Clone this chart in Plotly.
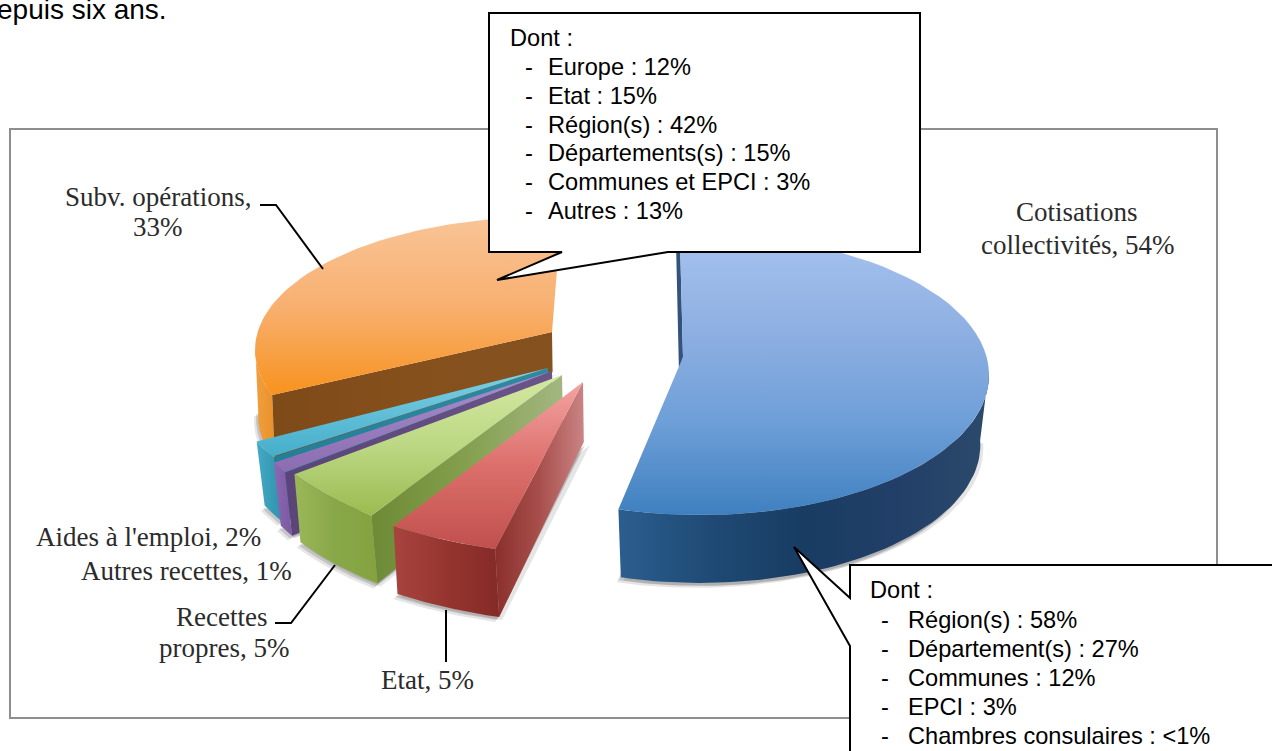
import math
import plotly.graph_objects as go

# ---- data ----
categories = ["Cotisations collectivités", "Etat", "Recettes propres", "Autres recettes", "Aides à l'emploi", "Subv. opérations"]
shares = [54, 5, 5, 1, 2, 33]
top_callout_head = "Dont :"
top_callout_items = ["Europe : 12%", "Etat : 15%", "Région(s) : 42%", "Départements(s) : 15%", "Communes et EPCI : 3%", "Autres : 13%"]
bottom_callout_head = "Dont :"
bottom_callout_items = ["Région(s) : 58%", "Département(s) : 27%", "Communes : 12%", "EPCI : 3%", "Chambres consulaires : <1%"]
header_text = "epuis six ans."

# ---- geometry of the exploded perspective pie (one entry per slice) ----
W, H = 1272, 751
geom = {
    "Cotisations collectivités": dict(c=(700, 375), rx=289, ry=140, apex=(683, 357), sh=(-4, 2), off=(0, 70), rxs=.97, rys=.985, ad=None),
    "Etat": dict(c=(608, 395), rx=365, ry=162, apex=(583, 382), sh=(3.6, 3.6), off=(4, 68), rxs=1, rys=1, ad=60),
    "Recettes propres": dict(c=(576, 365), rx=348, ry=186, apex=(562, 375), sh=(3.6, 3.6), off=(6, 68), rxs=1, rys=1, ad=60),
    "Autres recettes": dict(c=(544, 361), rx=320, ry=190, apex=(552, 371), sh=(3.6, 3.6), off=(7, 63), rxs=1, rys=1, ad=60),
    "Aides à l'emploi": dict(c=(510, 382), rx=280, ry=140, apex=(548, 368), sh=(3.6, 3.6), off=(8, 64), rxs=1, rys=1, ad=60),
    "Subv. opérations": dict(c=(545, 350), rx=290, ry=133, apex=(552, 332), sh=(9, 3.2), off=(3, 66), rxs=1, rys=1, ad=40),
}
# top colours are listed from the upper edge of the face to its lower edge
style = {
    "Cotisations collectivités": dict(top=["#a6c2ef", "#8fb0e2", "#6e9fd8", "#3f80c0"],
                                      wall=["#2b5e8f", "#1f4a75", "#183c62", "#223f68", "#2b4a6b"]),
    "Etat": dict(top=["#f3a3a1", "#dc6f6b", "#c0504d"], wall=["#a84440", "#96352f", "#852a28"], side=["#8a2f2c", "#a84f4c", "#c98484"]),
    "Recettes propres": dict(top=["#d3e8a2", "#bcd884", "#9bbb50"], wall=["#9bb858", "#88a748", "#84a33f"], side=["#6d8a36", "#84a04e", "#a3b682"]),
    "Autres recettes": dict(top=["#a98fcb", "#8d6cb2"], wall=["#8a68b2", "#7a5aa2"], side=["#5a4478", "#6a5488"]),
    "Aides à l'emploi": dict(top=["#7fd0e4", "#44aecb"], wall=["#44a9c4", "#2f93ae"], side=["#237f98", "#2f8aa0"]),
    "Subv. opérations": dict(top=["#f9c497", "#f8b070", "#f7921e"], wall=["#f0a040", "#e8902a"], side=["#7e4a18", "#86501c", "#84521f"]),
}
draw_order = ["Subv. opérations", "Aides à l'emploi", "Autres recettes", "Recettes propres", "Etat", "Cotisations collectivités"]


def scale(cols, flip=False):
    n = len(cols) - 1
    out = [[i / n, c] for i, c in enumerate(cols)]
    if flip:
        out = [[1 - p, c] for p, c in reversed(out)]
    return out


def arc(c, rx, ry, t0, t1, n=60):
    ts = [t0 + (t1 - t0) * i / n for i in range(n + 1)]
    return [(c[0] + rx * math.sin(math.radians(t)), c[1] - ry * math.cos(math.radians(t))) for t in ts]


def poly(fig, pts, name, cols=None, kind="vertical", solid=None):
    xs = [p[0] for p in pts] + [pts[0][0]]
    ys = [p[1] for p in pts] + [pts[0][1]]
    tr = dict(x=xs, y=ys, mode="lines", fill="toself", line=dict(width=0), hoverinfo="skip", showlegend=False, name=name)
    if solid:
        tr["fillcolor"] = solid
    else:
        tr["fillgradient"] = dict(type=kind, colorscale=scale(cols, flip=kind == "vertical"))
    fig.add_trace(go.Scatter(**tr))


fig = go.Figure()

cum = {}
acc = 0
for cat, v in zip(categories, shares):
    cum[cat] = (acc * 3.6, (acc + v) * 3.6)
    acc += v

for cat in draw_order:
    g, s = geom[cat], style[cat]
    t0, t1 = cum[cat][0] + g["sh"][0], cum[cat][1] + g["sh"][1]
    top = arc(g["c"], g["rx"], g["ry"], t0, t1)
    dx, dy = g["off"]
    bc = (g["c"][0] + dx, g["c"][1] + dy)
    brx, bry = g["rx"] * g["rxs"], g["ry"] * g["rys"]
    wt0, wt1 = max(t0, 88), min(t1, 272)
    wall_top = arc(g["c"], g["rx"], g["ry"], wt0, wt1)
    wall_bot = arc(bc, brx, bry, wt0, wt1)
    # soft contact shadow
    sil = [(g["apex"][0] + dx, g["apex"][1] + (g["ad"] or dy))] + wall_bot
    for sx, sy, a in [(-4, 5, .10), (-2, 3, .14), (3, 3, .10)]:
        poly(fig, [(x + sx, y + sy) for x, y in sil], cat, solid=f"rgba(0,0,0,{a})")
    # outer wall
    poly(fig, wall_top + wall_bot[::-1], cat, s["wall"], "horizontal")
    # cut face
    ax, ay = g["apex"]
    cx, cy = top[0]
    if g["ad"] is not None:
        poly(fig, [(cx, cy), (cx + dx, cy + dy), (ax + dx * .2, ay + g["ad"]), (ax, ay)], cat, s["side"], "horizontal")
    else:
        poly(fig, [(cx, cy), (cx - 4, cy), (ax - 4, ay + 16), (ax, ay)], cat, solid="#33527c")
    # top face
    poly(fig, [g["apex"]] + top, cat, s["top"], "vertical")

FRAME = "#8e8e8e"
shapes = [
    dict(type="rect", x0=10, y0=129, x1=1217, y1=718, line=dict(color=FRAME, width=2), fillcolor="white", layer="below"),
    dict(type="path", layer="above", fillcolor="white", line=dict(color="black", width=2),
         path="M 489 13 L 920 13 L 920 252 L 668 252 L 497 280 L 562 252 L 489 252 Z"),
    dict(type="path", layer="above", fillcolor="white", line=dict(color="black", width=2),
         path="M 850 565 L 1300 565 L 1300 790 L 850 790 L 850 646 L 794 547 L 850 598 Z"),
    dict(type="path", layer="above", line=dict(color="black", width=2), path="M 260 205 L 276 205 L 323 269"),
    dict(type="path", layer="above", line=dict(color="black", width=2), path="M 275 623 L 291 623 L 335 565"),
    dict(type="line", layer="above", x0=446, x1=446, y0=610, y1=662, line=dict(color="black", width=2)),
]

ann = []


def txt(text, x, y, anchor="left", font="Liberation Sans", size=23.6, color="black"):
    ann.append(dict(text=text, x=x, y=y, xref="x", yref="y", xanchor=anchor, yanchor="middle",
                    showarrow=False, font=dict(family=font, size=size, color=color), borderpad=0))


SERIF = "Liberation Serif"
LAB = 27
C = "#2b2b2b"
txt("Subv. opérations,", 158, 197, "center", SERIF, LAB, C)
txt("33%", 158, 227, "center", SERIF, LAB, C)
txt("Cotisations", 1077, 212, "center", SERIF, LAB, C)
txt("collectivités, 54%", 1077, 245, "center", SERIF, LAB, C)
txt("Aides à l'emploi, 2%", 262, 537, "right", SERIF, LAB, C)
txt("Autres recettes, 1%", 293, 571, "right", SERIF, LAB, C)
txt("Recettes", 268, 617, "right", SERIF, LAB, C)
txt("propres, 5%", 290, 648, "right", SERIF, LAB, C)
txt("Etat, 5%", 427, 680, "center", SERIF, LAB, C)

txt(header_text, 168, 9, "right", size=28)

txt(top_callout_head, 509, 38)
for i, t in enumerate(top_callout_items):
    y = 67 + i * 28.8
    txt("-", 524, y)
    txt(t, 547, y)

txt(bottom_callout_head, 869, 590)
for i, t in enumerate(bottom_callout_items):
    y = 620 + i * 29
    txt("-", 880, y)
    txt(t, 907, y)

fig.update_layout(
    width=W, height=H, margin=dict(l=0, r=0, t=0, b=0), paper_bgcolor="white", plot_bgcolor="white",
    xaxis=dict(range=[0, W], visible=False, fixedrange=True),
    yaxis=dict(range=[H, 0], visible=False, fixedrange=True),
    shapes=shapes, annotations=ann, showlegend=False,
)
fig.write_html("out.html", config={"displayModeBar": False}, post_script="document.body.style.margin='0';")
